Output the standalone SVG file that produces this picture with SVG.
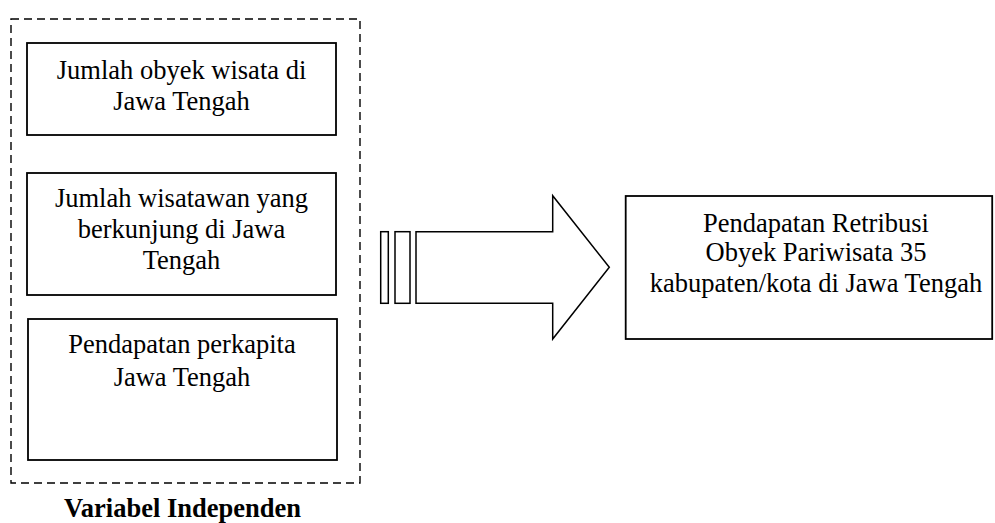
<svg xmlns="http://www.w3.org/2000/svg" width="995" height="523" viewBox="0 0 995 523">
<style>
.box{fill:#fff;stroke:#000;stroke-width:1.8}
.t{font-family:"Liberation Serif","Times New Roman",serif;font-size:26.5px;fill:#000;text-anchor:middle}
.b{font-weight:bold}
.dash{fill:none;stroke:#000;stroke-width:1.4;stroke-dasharray:8 5}
.ar{fill:#fff;stroke:#000;stroke-width:1.5;stroke-linejoin:miter}
</style>
<rect width="995" height="523" fill="#fff"/>
<g id="group-independen">
<rect class="dash" x="11" y="19" width="349" height="464"/>
</g>
<g id="node-obyek">
<rect class="box" x="27" y="43" width="309" height="92"/>
<text class="t" x="181.5" y="79">Jumlah obyek wisata di</text>
<text class="t" x="181.5" y="109.5">Jawa Tengah</text>
</g>
<g id="node-wisatawan">
<rect class="box" x="27" y="173" width="309" height="122"/>
<text class="t" x="181.5" y="207">Jumlah wisatawan yang</text>
<text class="t" x="181.5" y="238">berkunjung di Jawa</text>
<text class="t" x="181.5" y="269">Tengah</text>
</g>
<g id="node-perkapita">
<rect class="box" x="28" y="319" width="309" height="141"/>
<text class="t" x="182" y="353">Pendapatan perkapita</text>
<text class="t" x="182" y="386">Jawa Tengah</text>
</g>
<g id="label-independen">
<text class="t b" x="182.5" y="516.5">Variabel Independen</text>
</g>
<g id="connectors">
<rect class="ar" x="380.7" y="231.7" width="7.6" height="71.6"/>
<rect class="ar" x="395" y="231.7" width="15" height="71.6"/>
<polygon class="ar" points="416,231.7 552.7,231.7 552.7,195.7 609.3,267.3 552.7,339 552.7,303.3 416,303.3"/>
</g>
<g id="node-retribusi">
<rect class="box" x="625.7" y="196" width="366.5" height="143"/>
<text class="t" x="816" y="231.5">Pendapatan Retribusi</text>
<text class="t" x="816" y="261">Obyek Pariwisata 35</text>
<text class="t" x="816" y="291.5">kabupaten/kota di Jawa Tengah</text>
</g>
</svg>
